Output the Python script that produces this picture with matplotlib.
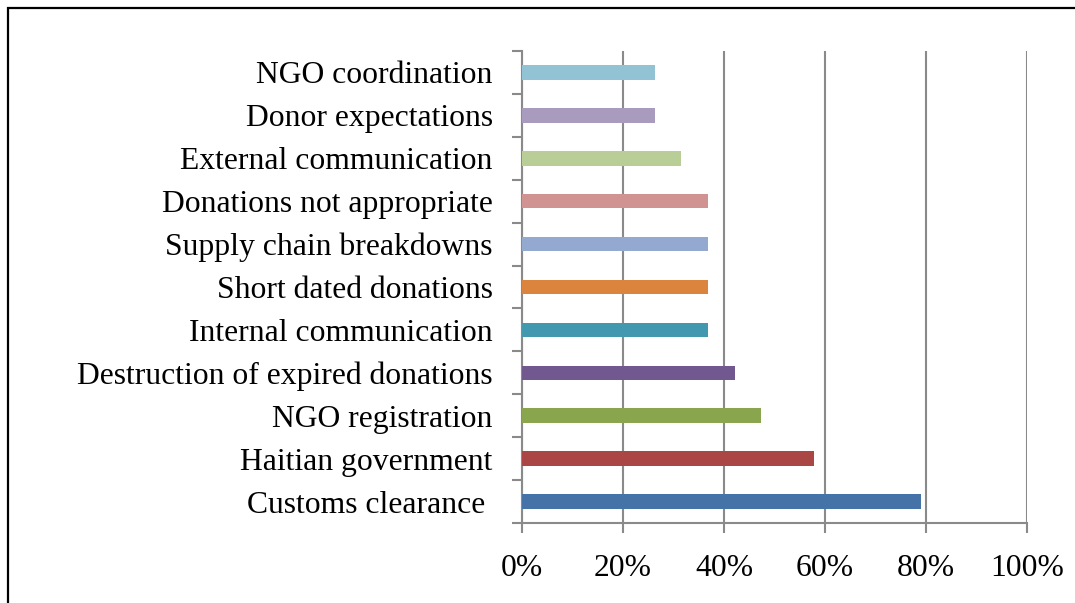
import matplotlib.pyplot as plt
import matplotlib.patches as mpatches
import numpy as np

plt.rcParams['font.family'] = ['Liberation Serif', 'DejaVu Serif']

# bottom-to-top order, share of respondents (19 answers)
categories = ['Customs clearance ', 'Haitian government', 'NGO registration',
              'Destruction of expired donations', 'Internal communication',
              'Short dated donations', 'Supply chain breakdowns',
              'Donations not appropriate', 'External communication',
              'Donor expectations', 'NGO coordination']
counts = [15, 11, 9, 8, 7, 7, 7, 7, 6, 5, 5]
respondents = 19
colors = ['#4572A7', '#AA4643', '#89A54E', '#71588F', '#4198AF', '#DB843D',
          '#93A9CF', '#D19392', '#B9CD96', '#A99BBD', '#91C3D5']
xticks = [0, 0.2, 0.4, 0.6, 0.8, 1.0]
xtick_labels = ['0%', '20%', '40%', '60%', '80%', '100%']

shares = np.array(counts) / respondents
y = np.arange(len(categories))

fig = plt.figure(figsize=(10.75, 6.03), dpi=100)
ax = fig.add_axes([0.4856, 0.1327, 0.4697, 0.7827])

ax.barh(y, shares, height=0.34, color=colors, zorder=3)

ax.set_xlim(0, 1)
ax.set_ylim(-0.5, len(categories) - 0.5)

grid_c = '#8a8a8a'
ax.set_xticks(xticks)
ax.set_xticklabels(xtick_labels, fontsize=22.8)
ax.xaxis.grid(True, color=grid_c, linewidth=1.5, zorder=0)

# category separators as ticks, labels centred between them
ax.set_yticks(np.arange(-0.5, len(categories), 1))
ax.set_yticklabels([])
ax.set_yticks(y, minor=True)
ax.set_yticklabels(categories, minor=True, fontsize=22.8)

ax.tick_params(axis='y', which='major', length=7.2, width=1.5, color=grid_c)
ax.tick_params(axis='y', which='minor', length=0, pad=21)
ax.tick_params(axis='x', which='major', length=7.2, width=1.5, color=grid_c, pad=15)

for side in ['top', 'right']:
    ax.spines[side].set_visible(False)
for side in ['left', 'bottom']:
    ax.spines[side].set_color(grid_c)
    ax.spines[side].set_linewidth(1.5)

# outer frame of the chart area
frame = mpatches.Rectangle((8 / 1075, -0.1), 1.2, 1 - 8 / 603 + 0.1,
                           transform=fig.transFigure, fill=False,
                           edgecolor='black', linewidth=1.6)
fig.patches.append(frame)

fig.savefig('out.png', dpi=100)
